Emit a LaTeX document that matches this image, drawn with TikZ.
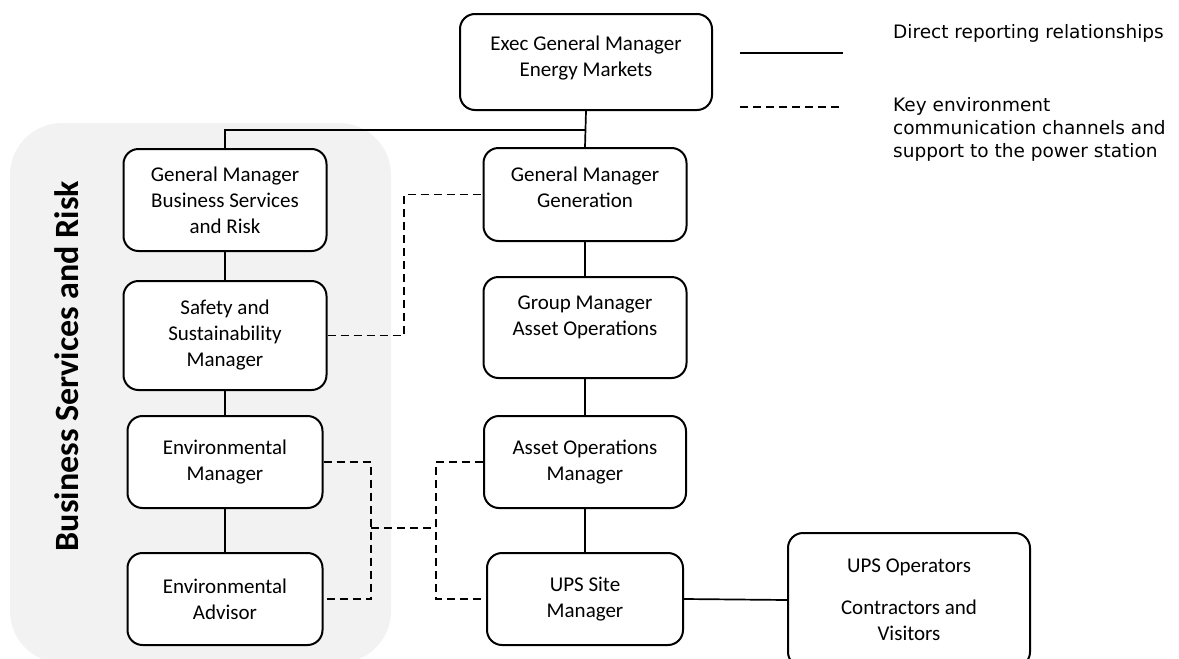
\documentclass[tikz,border=0pt]{standalone}
\usepackage{fontspec}
\setmainfont{Carlito}
\newfontfamily\legendfont{DejaVu Sans}
\definecolor{panelgray}{HTML}{F2F2F2}

\begin{document}
\begin{tikzpicture}
    [x=1pt, y=-1pt,
    role/.style={draw, fill=white, line width=2pt, rounded corners=15pt, align=center,
      inner sep=0pt, font=\fontsize{21}{26}\selectfont},
    direct/.style={line width=1.7pt},
    comm/.style={line width=1.8pt, dash pattern=on 8pt off 5pt},
    legend/.style={anchor=west, align=left, inner sep=0pt,
      font=\legendfont\fontsize{18.5}{23}\selectfont}]
  \useasboundingbox (0,0) rectangle (1179,659);

  % business services and risk panel
  \fill [panelgray, rounded corners=52pt] (10,123) rectangle (391,663);
  \node [rotate=90, font=\fontsize{34}{40}\selectfont\bfseries] (unit) at (67,366)
    {Business Services and Risk};

  % roles
  \node [role, minimum width=252pt, minimum height=96pt, text depth=12pt] (exec) at (586,62)
    {Exec General Manager\\Energy Markets};
  \node [role, minimum width=203pt, minimum height=102pt] (gmbsr) at (225,200)
    {General Manager\\Business Services\\and Risk};
  \node [role, minimum width=203pt, minimum height=109pt] (safety) at (225,335.5)
    {Safety and\\Sustainability\\Manager};
  \node [role, minimum width=195pt, minimum height=92pt] (envman) at (225,462)
    {Environmental\\Manager};
  \node [role, minimum width=195pt, minimum height=92pt] (envadv) at (225,599)
    {Environmental\\Advisor};
  \node [role, minimum width=203pt, minimum height=93pt, text depth=14pt] (gmgen) at (585,194.5)
    {General Manager\\Generation};
  \node [role, minimum width=203pt, minimum height=101pt, text depth=24pt] (grpman) at (585,327.5)
    {Group Manager\\Asset Operations};
  \node [role, minimum width=202pt, minimum height=92pt] (aomgr) at (585,462)
    {Asset Operations\\Manager};
  \node [role, minimum width=196pt, minimum height=92pt] (upssite) at (585,599)
    {UPS Site\\Manager};
  \node [role, minimum width=242pt, minimum height=134pt] (upsops) at (909,600)
    {UPS Operators\\[16pt]Contractors and\\Visitors};

  % direct reporting
  \coordinate (split) at (585,130);
  \draw [direct] (exec.south) -- (gmgen.north);
  \draw [direct] (split) -| (gmbsr.north);
  \draw [direct] (gmbsr) -- (safety);
  \draw [direct] (safety) -- (envman);
  \draw [direct] (envman) -- (envadv);
  \draw [direct] (gmgen) -- (grpman);
  \draw [direct] (grpman) -- (aomgr);
  \draw [direct] (aomgr) -- (upssite);
  \draw [direct] (upssite.east) -- (upsops.west);

  % communication channels
  \coordinate (j1) at (404,335);
  \coordinate (j2) at (371,528);
  \coordinate (j3) at (436,528);
  \draw [comm] (safety.east) -- (safety.east -| j1) -- (gmgen.west -| j1) -- (gmgen.west);
  \draw [comm] (envman.east) -- (envman.east -| j2) -- (envadv.east -| j2) -- (envadv.east);
  \draw [comm] (aomgr.west) -- (aomgr.west -| j3) -- (upssite.west -| j3) -- (upssite.west);
  \draw [comm] (j2) -- (j3);

  % legend
  \coordinate (sa) at (740,53);
  \coordinate (sb) at (843,53);
  \coordinate (da) at (740,107);
  \coordinate (db) at (843,107);
  \draw [direct] (sa) -- (sb);
  \draw [comm] (da) -- (db);
  \node [legend] (ldirect) at (893,33) {Direct reporting relationships};
  \node [legend] (lcomm) at (893,129)
    {Key environment\\communication channels and\\support to the power station};
\end{tikzpicture}
\end{document}
